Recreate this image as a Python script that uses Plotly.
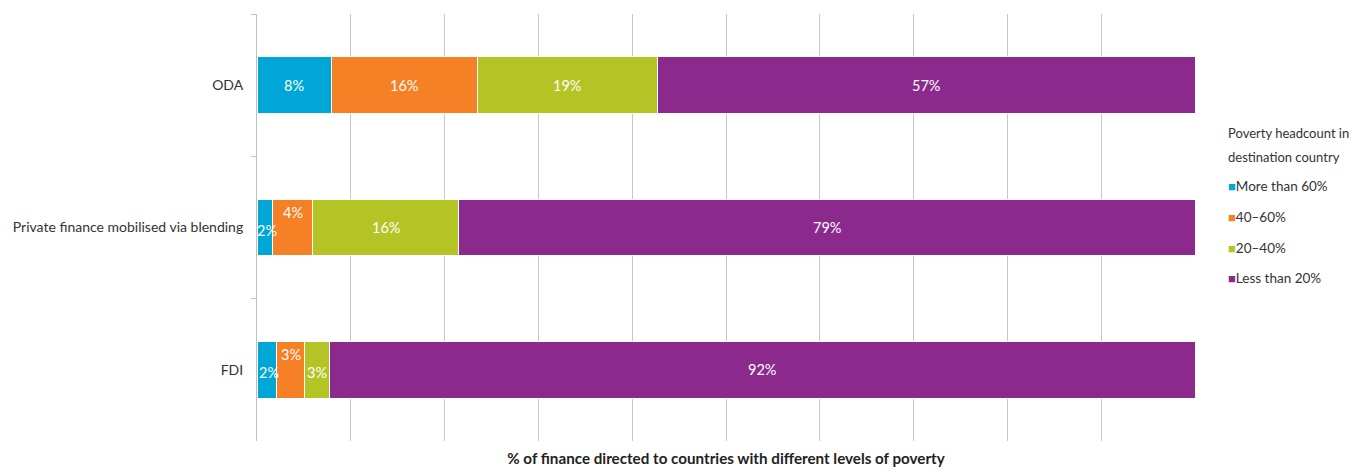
import plotly.graph_objects as go

categories = ["ODA", "Private finance mobilised via blending", "FDI"]
series_names = ["More than 60%", "40–60%", "20–40%", "Less than 20%"]
more_than_60 = [7.9, 1.7, 2.1]
from_40_to_60 = [15.6, 4.2, 3.0]
from_20_to_40 = [19.2, 15.6, 2.6]
less_than_20 = [57.3, 78.6, 92.3]
legend_title = ["Poverty headcount in", "destination country"]

colors = ["#00a6d6", "#f58025", "#b5c425", "#8b2a8c"]
values = [more_than_60, from_40_to_60, from_20_to_40, less_than_20]
font = "Lato"
txt = "#333333"

fig = go.Figure()
for i in range(4):
    fig.add_trace(go.Bar(
        y=categories, x=values[i], name=series_names[i], orientation="h",
        marker=dict(color=colors[i], line=dict(color="white", width=1)),
        showlegend=False, hoverinfo="x+name"))

# data labels, centred in each segment; narrow orange ones sit higher
annotations = []
for j in range(len(categories)):
    start = 0
    for i in range(4):
        v = values[i][j]
        shift = 15 if (i == 1 and v < 5) else -3 if v < 5 else 0
        annotations.append(dict(
            x=start + v / 2, y=categories[j], text="%.0f%%" % round(v),
            showarrow=False, yshift=shift, xshift=2 if (i == 0 and v < 5) else 0,
            font=dict(family=font, size=14.5, color="white")))
        start += v

# legend drawn as text next to the plot
for k, line in enumerate(legend_title):
    annotations.append(dict(
        xref="paper", yref="paper", x=1.033, y=0.721 - k * 0.056,
        xanchor="left", yanchor="middle", text=line, showarrow=False,
        font=dict(family=font, size=13, color=txt)))
for i in range(4):
    annotations.append(dict(
        xref="paper", yref="paper", x=1.033, y=0.597 - i * 0.072,
        xanchor="left", yanchor="middle", showarrow=False, align="left",
        text="<span style='color:%s;font-size:13px'>■</span>%s" % (colors[i], series_names[i]),
        font=dict(family=font, size=13.5, color=txt)))

# page body has an 8px margin, so the figure sits 8px in from the window edge
fig.update_layout(
    width=1341, height=466,
    margin=dict(l=249, r=154, t=6, b=33),
    barmode="stack", bargap=0.6,
    plot_bgcolor="white", paper_bgcolor="white",
    font=dict(family=font, size=14, color=txt),
    annotations=annotations,
    xaxis=dict(
        range=[0, 100], dtick=10, showticklabels=False, zeroline=False,
        showgrid=True, gridcolor="#c8c8c8", gridwidth=1, automargin=False,
        title=dict(text="<b>% of finance directed to countries with different levels of poverty</b>",
                   standoff=12, font=dict(size=15.2, color="#222222"))),
    yaxis=dict(
        type="category", autorange="reversed", showline=True, linecolor="#c0c0c0",
        linewidth=1, ticks="outside", tickson="boundaries", ticklen=5,
        tickcolor="#c0c0c0", showgrid=False, automargin=False,
        ticklabelstandoff=10),
)

fig.write_html("out.html")
